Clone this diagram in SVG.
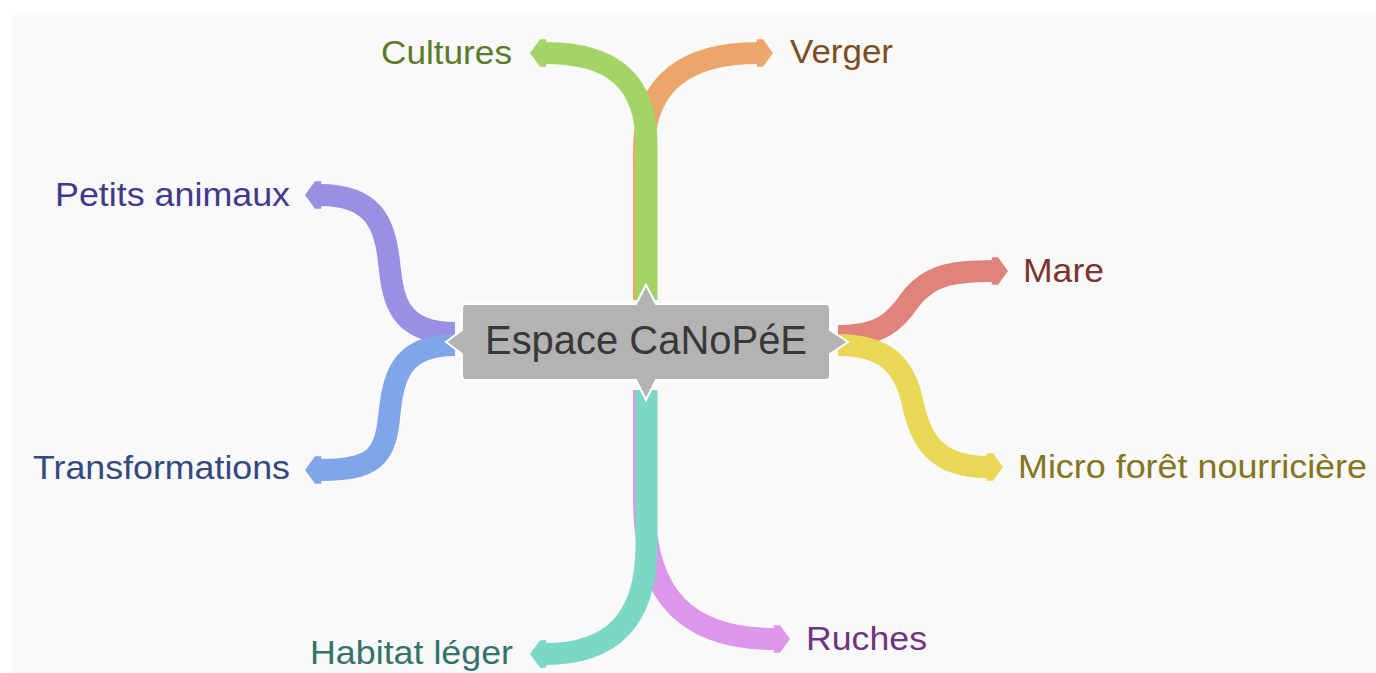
<svg xmlns="http://www.w3.org/2000/svg" width="1376" height="673" viewBox="0 0 1376 673">
  <style>
    .band { fill: none; stroke-width: 22; stroke-linecap: butt; }
    .lbl { font-family: "Liberation Sans", Arial, sans-serif; font-size: 33px; }
    .center { font-family: "Liberation Sans", Arial, sans-serif; font-size: 40px; fill: #383838; }
  </style>
  <defs>
    <marker id="m-green" markerUnits="userSpaceOnUse" markerWidth="30" markerHeight="30" refX="0" refY="0" viewBox="-2 -12 16 24" orient="auto" overflow="visible"><path d="M-1,-11 L4,-11 L12,0 L4,11 L-1,11 Z" fill="#a3d566"/></marker>
    <marker id="m-orange" markerUnits="userSpaceOnUse" markerWidth="30" markerHeight="30" refX="0" refY="0" viewBox="-2 -12 16 24" orient="auto" overflow="visible"><path d="M-1,-11 L4,-11 L12,0 L4,11 L-1,11 Z" fill="#eca66b"/></marker>
    <marker id="m-purple" markerUnits="userSpaceOnUse" markerWidth="30" markerHeight="30" refX="0" refY="0" viewBox="-2 -12 16 24" orient="auto" overflow="visible"><path d="M-1,-11 L4,-11 L12,0 L4,11 L-1,11 Z" fill="#998fe3"/></marker>
    <marker id="m-blue" markerUnits="userSpaceOnUse" markerWidth="30" markerHeight="30" refX="0" refY="0" viewBox="-2 -12 16 24" orient="auto" overflow="visible"><path d="M-1,-11 L4,-11 L12,0 L4,11 L-1,11 Z" fill="#80a5e8"/></marker>
    <marker id="m-red" markerUnits="userSpaceOnUse" markerWidth="30" markerHeight="30" refX="0" refY="0" viewBox="-2 -12 16 24" orient="auto" overflow="visible"><path d="M-1,-11 L4,-11 L12,0 L4,11 L-1,11 Z" fill="#e0837b"/></marker>
    <marker id="m-yellow" markerUnits="userSpaceOnUse" markerWidth="30" markerHeight="30" refX="0" refY="0" viewBox="-2 -12 16 24" orient="auto" overflow="visible"><path d="M-1,-11 L4,-11 L12,0 L4,11 L-1,11 Z" fill="#e8d855"/></marker>
    <marker id="m-teal" markerUnits="userSpaceOnUse" markerWidth="30" markerHeight="30" refX="0" refY="0" viewBox="-2 -12 16 24" orient="auto" overflow="visible"><path d="M-1,-11 L4,-11 L12,0 L4,11 L-1,11 Z" fill="#7ad8c5"/></marker>
    <marker id="m-pink" markerUnits="userSpaceOnUse" markerWidth="30" markerHeight="30" refX="0" refY="0" viewBox="-2 -12 16 24" orient="auto" overflow="visible"><path d="M-1,-11 L4,-11 L12,0 L4,11 L-1,11 Z" fill="#dc96eb"/></marker>
  </defs>

  <rect x="0" y="0" width="1376" height="673" fill="#ffffff"/>
  <rect x="12" y="15" width="1364" height="658" fill="#f9f9f9"/>

  <g id="connectors">
    <path class="band" stroke="#eca66b" marker-end="url(#m-orange)" d="M644,300 L644,150 C644,80 690,53 758,53"/>
    <path class="band" stroke="#a3d566" marker-end="url(#m-green)" d="M646.5,300 L646.5,145 C646.5,80 612,53 545,53"/>
    <path class="band" stroke="#998fe3" marker-end="url(#m-purple)" d="M455,333 C398,333 393,300 389,262 C385,222 372,195 320,195"/>
    <path class="band" stroke="#80a5e8" marker-end="url(#m-blue)" d="M455,345 C398,345 393,380 389,418 C385,458 372,470 320,470"/>
    <path class="band" stroke="#e0837b" marker-end="url(#m-red)" d="M838,336 C880,336 895,322 910,300 C928,276 950,271 993,271"/>
    <path class="band" stroke="#e8d855" marker-end="url(#m-yellow)" d="M838,345 C890,345 905,370 912,400 C920,440 935,467 988,467"/>
    <path class="band" stroke="#dc96eb" marker-end="url(#m-pink)" d="M644,390 L644,500 C644,600 690,639 775,639"/>
    <path class="band" stroke="#7ad8c5" marker-end="url(#m-teal)" d="M646.5,390 L646.5,545 C646.5,622 610,654 545,654"/>
  </g>

  <g id="node-center">
    <path d="M466,304 L636,304 L646,285 L656,304 L826,304 Q830,304 830,308 L830,330 L848,342 L830,354 L830,376 Q830,380 826,380 L656,380 L646,400 L636,380 L466,380 Q462,380 462,376 L462,354 L446,342 L462,330 L462,308 Q462,304 466,304 Z" fill="#b3b3b3" stroke="#ffffff" stroke-width="2" stroke-linejoin="miter"/>
    <text class="center" x="485" y="354" textLength="322" lengthAdjust="spacingAndGlyphs">Espace CaNoPéE</text>
  </g>

  <g id="node-cultures"><text class="lbl" x="381" y="64" textLength="131" lengthAdjust="spacingAndGlyphs" fill="#5b7b2a">Cultures</text></g>
  <g id="node-verger"><text class="lbl" x="790" y="63" textLength="103" lengthAdjust="spacingAndGlyphs" fill="#7d4d26">Verger</text></g>
  <g id="node-petits-animaux"><text class="lbl" x="55" y="206" textLength="235" lengthAdjust="spacingAndGlyphs" fill="#3f3a8a">Petits animaux</text></g>
  <g id="node-transformations"><text class="lbl" x="33" y="479" textLength="257" lengthAdjust="spacingAndGlyphs" fill="#34497f">Transformations</text></g>
  <g id="node-mare"><text class="lbl" x="1023" y="282" textLength="81" lengthAdjust="spacingAndGlyphs" fill="#7a3530">Mare</text></g>
  <g id="node-micro-foret"><text class="lbl" x="1018" y="478" textLength="349" lengthAdjust="spacingAndGlyphs" fill="#857420">Micro forêt nourricière</text></g>
  <g id="node-habitat"><text class="lbl" x="310" y="664" textLength="203" lengthAdjust="spacingAndGlyphs" fill="#357369">Habitat léger</text></g>
  <g id="node-ruches"><text class="lbl" x="806" y="650" textLength="121" lengthAdjust="spacingAndGlyphs" fill="#71357f">Ruches</text></g>
</svg>
